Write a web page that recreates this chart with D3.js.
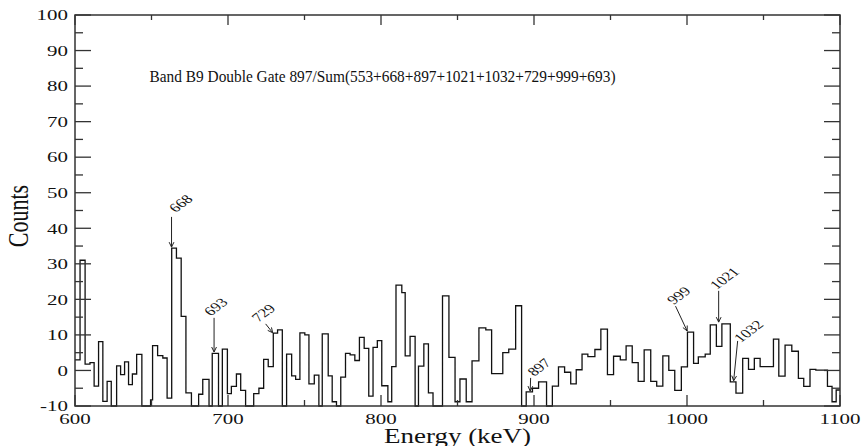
<!DOCTYPE html>
<html>
<head>
<meta charset="utf-8">
<script src="https://cdn.jsdelivr.net/npm/d3@7/dist/d3.min.js"></script>
<style>
  html, body { margin: 0; padding: 0; background: #fff; }
  svg { display: block; }
  text { font-family: "Liberation Serif", "Times New Roman", serif; fill: #111; }
</style>
</head>
<body>
<svg id="chart" width="863" height="446"></svg>
<script>
// ---- data ----
const binStart = [600, 603.3, 606.6, 609.8, 612.5, 615.4, 618.2, 621, 623.7, 627.2,
  629.8, 632.4, 635, 637.5, 640.3, 643.7, 649.4, 650.7, 654, 657.4,
  660.2, 663.2, 666.3, 669.4, 672.5, 676.1, 680.8, 683.5, 687.6, 689.7,
  693.8, 696.3, 699.6, 702.2, 705.5, 708.3, 711.5, 716.8, 720.2, 723.3,
  726.3, 729.6, 732.4, 735.5, 738.3, 741.6, 744.2, 747, 750.2, 752.9,
  756.4, 759.4, 761.6, 765.5, 768.1, 770.9, 773.7, 776.8, 779.8, 782.9,
  785.9, 789, 792, 794.8, 797.6, 800.5, 804.5, 807, 809.8, 813.6,
  815.8, 819, 822.3, 824.5, 828, 831, 834, 840.2, 844.4, 848.4,
  851.6, 855.7, 859.5, 864, 868.5, 872.3, 879.6, 883.5, 888, 891.9,
  894.9, 899, 903, 908.2, 912, 916, 920, 924, 927.6, 931.4,
  935.2, 939.8, 943.7, 948, 952, 956.4, 960.2, 964.2, 968.1, 972,
  976.3, 980.2, 984.2, 988.1, 992, 996.3, 1000.3, 1004.3, 1007.4, 1011.9,
  1015.2, 1019.2, 1022.8, 1028.3, 1032, 1036.4, 1040.2, 1044, 1047.8, 1056.5,
  1060, 1064.1, 1068.5, 1072.8, 1076.3, 1080.4, 1084.2, 1091.8, 1094.8, 1097.5];
const counts = [3, 31, 1.8, 2.2, -4.4, 8.1, -8.7, -3.1, -10, 1.3,
  -1.2, 2.4, -4, -1, 4.5, -10, -8.3, 7, 4.2, 3.5,
  -7.8, 34.4, 31.6, 15.2, -6.3, -10, -6.7, -2.5, -10, 4.8,
  -10, 6, -6.5, -4.5, -1, -5.6, -10, -6.5, -5, 3.1,
  1.1, 10.5, 11.4, -10, 4.6, -1.5, -2.5, 10.6, 10, -3.8,
  -1.3, -10, 10.3, -1.5, -8.8, -10, -1.9, 4.8, 4.4, 2.8,
  9.3, 6.2, -7.2, 6.5, 8.4, -4.3, -8.8, 1.1, 24, 21.9,
  4.1, 9.6, -10, 1.2, 7.5, -6.3, -10, 21, 3.7, -8.8,
  -2.4, -8.8, 2.7, 12, 11.4, -0.9, 5, 6, 18.2, -10,
  -6, -5, -3.2, -10, -4.4, 1, -0.5, -3.8, 0.2, 4.6,
  3.9, 5.9, 11.6, -1.2, 4, 3, 6.9, 2.2, -3.1, 5.8,
  -3.1, -4.4, 4.1, 0, -5.6, 1, 10.8, 2, 3.8, 4.6,
  12.8, 6.8, 13.1, -3.2, -6.4, 3.4, 0.3, 3.4, 1.1, 8.8,
  -1.6, 7.1, 5.4, -2.2, -4.5, 0.3, 0.1, -4.5, -8.8, -5.5];
const xEnd = 1100;

const xMajor = [600, 700, 800, 900, 1000, 1100];
const xMinor = [650, 750, 850, 950, 1050];
const yMajor = [-10, 0, 10, 20, 30, 40, 50, 60, 70, 80, 90, 100];
const yMinor = [-5, 5, 15, 25, 35, 45, 55, 65, 75, 85, 95];

const titleText = "Band B9 Double Gate 897/Sum(553+668+897+1021+1032+729+999+693)";
const xLabel = "Energy (keV)";
const yLabel = "Counts";

const peakNames = ["668", "693", "729", "897", "999", "1021", "1032"];
const arrowTail = [[663.1, 43.2], [690.9, 14.8], [724.6, 13.1], [897.8, -2.1], [992.5, 18.1], [1020.7, 22.4], [1033.1, 8.3]];
const arrowTip  = [[663.1, 34.7], [690.9, 5.2], [729.2, 10.6], [897.5, -5.8], [1000.1, 11.1], [1020.7, 13.6], [1030.5, -2.9]];
const labelAt   = [[665.9, 44.3], [688.7, 15.2], [720.0, 13.5], [900.1, -1.8], [991.4, 18.4], [1019.4, 22.6], [1035.1, 7.7]];

// ---- drawing ----
const svg = d3.select("#chart");
const pL = 75, pR = 840, pT = 15, pB = 406;
const sx = 1.35; // horizontal stretch of the original typesetting

const x = d3.scaleLinear().domain([600, 1100]).range([pL, pR]);
const y = d3.scaleLinear().domain([-10, 100]).range([pB, pT]).clamp(true);

svg.append("rect").attr("width", 863).attr("height", 446).attr("fill", "#fff");

// histogram
const pts = binStart.map((e, i) => [e, counts[i]]);
pts.push([xEnd, counts[counts.length - 1]]);
const line = d3.line().x(d => x(d[0])).y(d => y(d[1])).curve(d3.curveStepAfter);
svg.append("path").attr("d", line(pts))
  .attr("fill", "none").attr("stroke", "#111").attr("stroke-width", 1.3);

// frame
svg.append("rect").attr("x", pL).attr("y", pT)
  .attr("width", pR - pL).attr("height", pB - pT)
  .attr("fill", "none").attr("stroke", "#333").attr("stroke-width", 1.5);

const tk = svg.append("g").attr("stroke", "#333").attr("stroke-width", 1.3);
xMajor.forEach(v => {
  tk.append("line").attr("x1", x(v)).attr("x2", x(v)).attr("y1", pB).attr("y2", pB - 11);
  tk.append("line").attr("x1", x(v)).attr("x2", x(v)).attr("y1", pT).attr("y2", pT + 10);
});
xMinor.forEach(v => {
  tk.append("line").attr("x1", x(v)).attr("x2", x(v)).attr("y1", pB).attr("y2", pB - 6);
  tk.append("line").attr("x1", x(v)).attr("x2", x(v)).attr("y1", pT).attr("y2", pT + 5);
});
yMajor.forEach(v => {
  tk.append("line").attr("x1", pL).attr("x2", pL + 16).attr("y1", y(v)).attr("y2", y(v));
  tk.append("line").attr("x1", pR).attr("x2", pR - 16).attr("y1", y(v)).attr("y2", y(v));
});
yMinor.forEach(v => {
  tk.append("line").attr("x1", pL).attr("x2", pL + 8).attr("y1", y(v)).attr("y2", y(v));
  tk.append("line").attr("x1", pR).attr("x2", pR - 8).attr("y1", y(v)).attr("y2", y(v));
});

// tick labels
xMajor.forEach(v => {
  svg.append("text")
    .attr("transform", `translate(${x(v)},423.5) scale(${sx},1)`)
    .attr("text-anchor", "middle").attr("font-size", 15.5).text(v);
});
yMajor.forEach(v => {
  svg.append("text")
    .attr("transform", `translate(68,${y(v)}) scale(${sx},1)`)
    .attr("text-anchor", "end").attr("dy", "0.34em").attr("font-size", 15.5).text(v);
});

// axis titles
svg.append("text")
  .attr("transform", `translate(${(pL + pR) / 2},443) scale(${sx},1)`)
  .attr("text-anchor", "middle").attr("font-size", 20).text(xLabel);
svg.append("text")
  .attr("transform", `translate(28,216) scale(${sx},1) rotate(-90)`)
  .attr("text-anchor", "middle").attr("font-size", 22).text(yLabel);

// title
svg.append("text").attr("x", 149.5).attr("y", 81.5)
  .attr("font-size", 16.5).attr("textLength", 466).attr("lengthAdjust", "spacingAndGlyphs")
  .text(titleText);

// peak annotations
const ann = svg.append("g");
peakNames.forEach((name, i) => {
  const x1 = x(arrowTail[i][0]), y1 = y(arrowTail[i][1]);
  const x2 = x(arrowTip[i][0]), y2 = y(arrowTip[i][1]);
  ann.append("line").attr("x1", x1).attr("y1", y1).attr("x2", x2).attr("y2", y2)
    .attr("stroke", "#222").attr("stroke-width", 1);
  const a = Math.atan2(y2 - y1, x2 - x1), L = 5.5, w = 0.45;
  const p1 = [x2 - L * Math.cos(a - w), y2 - L * Math.sin(a - w)];
  const p2 = [x2 - L * Math.cos(a + w), y2 - L * Math.sin(a + w)];
  ann.append("path").attr("d", `M${p1[0]},${p1[1]}L${x2},${y2}L${p2[0]},${p2[1]}`)
    .attr("fill", "none").attr("stroke", "#222").attr("stroke-width", 1);
  ann.append("text")
    .attr("transform", `translate(${x(labelAt[i][0])},${y(labelAt[i][1])}) scale(${sx},1) rotate(-45)`)
    .attr("font-size", 12.5).text(name);
});
</script>
</body>
</html>
